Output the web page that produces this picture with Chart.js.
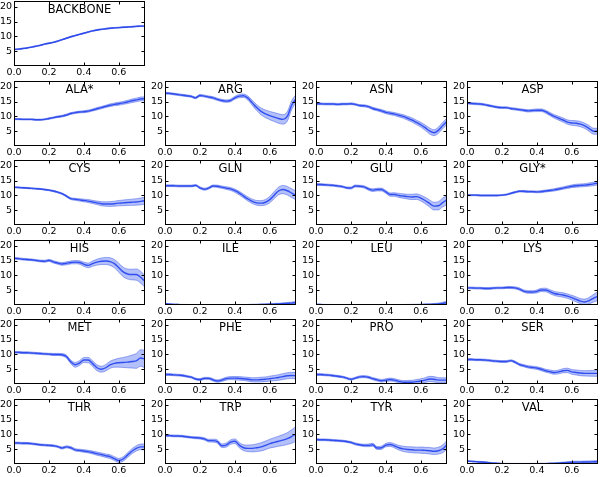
<!DOCTYPE html>
<html>
<head>
<meta charset="utf-8">
<script src="https://cdn.jsdelivr.net/npm/chart.js@4/dist/chart.umd.min.js"></script>
<style>
html,body{margin:0;padding:0;background:#fff;}
#wrap{position:relative;width:600px;height:477px;overflow:hidden;background:#fff;}
canvas{position:absolute;}
</style>
</head>
<body>
<div id="wrap"></div>
<script>
// ---- data ----
const X = [0,0.025,0.05,0.075,0.1,0.125,0.15,0.175,0.2,0.225,0.25,0.275,0.3,0.325,0.35,0.375,0.4,0.425,0.45,0.475,0.5,0.525,0.55,0.575,0.6,0.625,0.65,0.675,0.7,0.725,0.75];
const X_TICKS = [0.0,0.2,0.4,0.6];
const Y_TICKS = [5,10,15,20];
const Y_MAX = 22;
const X_MAX = 0.75;

const BACKBONE = [5.6,5.7,5.9,6.1,6.4,6.7,7.0,7.4,7.7,8.0,8.4,8.9,9.4,9.9,10.3,10.7,11.1,11.5,11.9,12.2,12.4,12.6,12.8,12.9,13.0,13.1,13.2,13.3,13.4,13.5,13.5];
const BACKBONE_SD = [0.15,0.15,0.15,0.15,0.15,0.15,0.15,0.15,0.15,0.15,0.15,0.15,0.15,0.15,0.15,0.15,0.15,0.15,0.15,0.15,0.15,0.15,0.15,0.15,0.15,0.15,0.15,0.15,0.15,0.15,0.15];
const ALA = [9.1,9.1,9.0,9.0,9.0,8.9,8.9,9.0,9.3,9.6,9.9,10.1,10.5,11.0,11.3,11.5,11.6,11.8,12.2,12.6,13.0,13.4,13.8,14.1,14.3,14.6,14.9,15.3,15.6,15.9,16.0];
const ALA_SD = [0.2,0.2,0.2,0.2,0.2,0.2,0.2,0.2,0.25,0.25,0.25,0.3,0.3,0.3,0.3,0.3,0.35,0.35,0.35,0.4,0.4,0.4,0.45,0.45,0.5,0.5,0.55,0.6,0.6,0.65,0.7];
const ARG = [17.9,17.8,17.6,17.4,17.2,17.0,16.8,16.3,17.1,16.9,16.6,16.3,15.8,15.4,15.2,15.4,16.3,16.9,17.0,16.2,14.6,13.0,11.7,10.9,10.3,9.8,9.3,9.0,10.0,13.8,16.0];
const ARG_SD = [0.3,0.3,0.3,0.3,0.3,0.3,0.3,0.3,0.35,0.35,0.35,0.4,0.4,0.4,0.4,0.45,0.5,0.55,0.6,0.7,0.85,1.0,1.15,1.3,1.4,1.5,1.6,1.6,1.6,1.5,1.4];
const ASN = [14.3,14.3,14.2,14.2,14.2,14.1,14.2,14.2,14.3,14.1,13.7,13.6,13.3,12.7,12.3,11.9,11.4,11.1,10.8,10.4,10.0,9.4,8.8,8.0,7.2,6.2,5.1,4.5,5.3,6.9,8.4];
const ASN_SD = [0.3,0.3,0.3,0.3,0.3,0.3,0.3,0.3,0.3,0.3,0.3,0.35,0.35,0.4,0.4,0.45,0.45,0.5,0.5,0.55,0.6,0.65,0.7,0.75,0.8,0.9,1.0,1.0,1.05,1.1,1.1];
const ASP = [14.5,14.4,14.3,14.2,14.0,13.7,13.4,13.1,13.0,13.0,12.7,12.5,12.3,12.1,11.9,12.0,12.1,12.1,11.6,10.8,10.0,9.4,8.8,8.1,7.8,7.7,7.4,6.8,5.9,5.0,5.0];
const ASP_SD = [0.3,0.3,0.3,0.3,0.3,0.3,0.3,0.3,0.3,0.3,0.3,0.35,0.35,0.35,0.4,0.4,0.45,0.45,0.5,0.55,0.6,0.65,0.7,0.75,0.8,0.85,0.9,0.9,1.0,1.0,1.0];
const CYS = [12.8,12.7,12.6,12.5,12.4,12.3,12.2,12.0,11.8,11.5,11.1,10.6,9.8,8.9,8.7,8.5,8.3,8.1,7.8,7.5,7.2,7.1,7.1,7.2,7.4,7.5,7.6,7.7,7.8,8.0,8.2];
const CYS_SD = [0.2,0.2,0.2,0.2,0.2,0.2,0.2,0.2,0.2,0.25,0.25,0.25,0.3,0.3,0.35,0.4,0.45,0.5,0.55,0.6,0.7,0.75,0.8,0.85,0.9,0.95,1.0,1.05,1.1,1.15,1.2];
const GLN = [13.3,13.3,13.3,13.2,13.2,13.2,13.2,13.4,12.6,12.1,12.5,13.2,13.1,12.8,12.5,12.2,11.6,10.8,9.8,8.8,8.0,7.5,7.4,7.7,8.6,10.1,11.5,12.0,11.6,10.8,10.0];
const GLN_SD = [0.3,0.3,0.3,0.3,0.3,0.3,0.3,0.3,0.35,0.35,0.35,0.35,0.4,0.4,0.45,0.5,0.55,0.6,0.65,0.7,0.75,0.8,0.85,0.95,1.05,1.2,1.3,1.4,1.45,1.5,1.5];
const GLU = [13.7,13.7,13.6,13.5,13.4,13.2,13.0,12.6,12.5,13.2,13.1,12.9,12.2,11.8,12.0,12.0,11.2,10.3,10.3,10.0,9.8,9.6,9.5,9.6,9.1,8.3,7.3,6.4,6.5,7.6,8.5];
const GLU_SD = [0.3,0.3,0.3,0.3,0.3,0.3,0.3,0.3,0.35,0.35,0.35,0.4,0.4,0.45,0.45,0.5,0.5,0.55,0.6,0.7,0.75,0.8,0.9,0.95,1.0,1.1,1.2,1.3,1.4,1.5,1.6];
const GLY = [10.1,10.1,10.1,10.0,10.0,10.0,10.0,10.0,10.1,10.3,10.7,11.1,11.4,11.4,11.3,11.3,11.2,11.3,11.5,11.7,11.9,12.2,12.5,12.8,13.1,13.3,13.4,13.5,13.7,13.9,14.2];
const GLY_SD = [0.2,0.2,0.2,0.2,0.2,0.2,0.2,0.2,0.2,0.2,0.25,0.25,0.25,0.3,0.3,0.3,0.3,0.35,0.35,0.35,0.4,0.4,0.4,0.45,0.45,0.5,0.5,0.5,0.55,0.6,0.6];
const HIS = [15.8,15.7,15.5,15.4,15.3,15.1,14.9,14.8,15.1,14.6,14.2,13.9,14.1,14.4,14.5,14.4,13.8,13.4,14.0,14.5,14.8,14.9,14.7,14.0,12.6,11.2,10.5,10.3,10.3,9.4,8.0];
const HIS_SD = [0.3,0.3,0.3,0.3,0.3,0.3,0.3,0.35,0.35,0.4,0.4,0.45,0.5,0.5,0.55,0.6,0.7,0.8,0.9,1.0,1.1,1.2,1.3,1.4,1.5,1.6,1.7,1.8,1.9,2.0,2.0];
const ILE = [0.4,0.3,0.2,0.15,0.1,0.08,0.06,0.05,0.05,0.05,0.05,0.05,0.05,0.05,0.05,0.05,0.05,0.06,0.07,0.08,0.1,0.12,0.15,0.2,0.25,0.3,0.35,0.45,0.55,0.65,0.8];
const ILE_SD = [0.1,0.1,0.1,0.1,0.1,0.1,0.1,0.1,0.1,0.1,0.1,0.1,0.1,0.1,0.1,0.1,0.1,0.1,0.1,0.1,0.15,0.15,0.15,0.2,0.2,0.25,0.25,0.3,0.3,0.35,0.4];
const LEU = [0.2,0.15,0.1,0.08,0.06,0.05,0.05,0.05,0.05,0.05,0.05,0.05,0.05,0.05,0.05,0.05,0.05,0.05,0.05,0.05,0.06,0.07,0.08,0.1,0.12,0.15,0.2,0.25,0.35,0.55,0.9];
const LEU_SD = [0.1,0.1,0.1,0.1,0.1,0.1,0.1,0.1,0.1,0.1,0.1,0.1,0.1,0.1,0.1,0.1,0.1,0.1,0.1,0.1,0.12,0.12,0.15,0.15,0.18,0.2,0.22,0.25,0.3,0.35,0.4];
const LYS = [5.8,5.8,5.7,5.7,5.6,5.6,5.7,5.8,5.8,5.9,5.9,5.8,5.4,4.7,4.4,4.4,4.6,5.1,5.1,4.5,3.9,3.6,3.4,3.0,2.5,1.9,1.3,1.0,1.5,2.3,3.0];
const LYS_SD = [0.3,0.3,0.3,0.3,0.3,0.3,0.3,0.3,0.3,0.3,0.35,0.35,0.4,0.4,0.45,0.45,0.5,0.55,0.6,0.65,0.7,0.7,0.75,0.75,0.8,0.85,0.9,1.0,1.1,1.3,1.5];
const MET = [10.7,10.7,10.6,10.6,10.5,10.4,10.3,10.2,10.1,10.0,10.0,9.9,9.3,7.5,6.5,7.1,8.1,8.1,6.9,5.5,5.0,5.5,6.5,7.0,7.2,7.3,7.4,7.6,7.8,8.8,8.4];
const MET_SD = [0.3,0.3,0.3,0.3,0.3,0.3,0.3,0.3,0.3,0.35,0.35,0.4,0.5,0.6,0.8,0.8,0.85,0.9,0.95,1.0,1.0,1.1,1.2,1.3,1.5,1.7,1.9,2.2,2.5,2.8,3.0];
const PHE = [3.2,3.2,3.1,3.0,2.9,2.6,2.3,1.7,1.5,1.9,1.9,1.4,1.0,1.3,1.8,2.0,2.0,1.9,1.8,1.6,1.4,1.4,1.5,1.6,1.8,2.0,2.2,2.5,2.8,2.9,2.8];
const PHE_SD = [0.3,0.3,0.3,0.3,0.3,0.3,0.3,0.3,0.3,0.35,0.35,0.4,0.4,0.45,0.5,0.5,0.55,0.6,0.6,0.65,0.7,0.75,0.8,0.8,0.85,0.9,0.95,1.0,1.0,1.05,1.1];
const PRO = [3.2,3.2,3.1,3.0,2.8,2.6,2.4,2.0,1.6,2.0,2.4,2.5,2.3,1.8,1.4,1.1,1.3,1.5,1.3,0.9,0.6,0.6,0.6,0.8,1.0,1.3,1.7,1.6,1.3,1.3,1.3];
const PRO_SD = [0.3,0.3,0.3,0.3,0.3,0.3,0.3,0.3,0.3,0.3,0.35,0.35,0.35,0.4,0.4,0.45,0.45,0.5,0.5,0.5,0.55,0.6,0.65,0.7,0.75,0.8,0.9,0.9,0.85,0.8,0.8];
const SER = [8.3,8.3,8.2,8.2,8.1,8.0,7.8,7.7,7.6,7.6,7.9,7.4,6.6,6.2,5.8,5.6,5.4,5.0,4.5,4.2,3.9,4.1,4.5,4.6,4.1,3.9,3.7,3.6,3.6,3.6,3.6];
const SER_SD = [0.3,0.3,0.3,0.3,0.3,0.3,0.3,0.3,0.3,0.3,0.3,0.35,0.35,0.4,0.4,0.45,0.45,0.5,0.5,0.55,0.6,0.65,0.7,0.75,0.8,0.85,0.9,0.9,0.95,1.0,1.0];
const THR = [7.1,7.1,7.0,7.0,6.9,6.7,6.5,6.4,6.3,6.2,5.9,5.4,5.8,5.5,4.8,4.6,4.4,4.2,3.9,3.5,3.2,2.8,2.5,1.8,1.2,1.7,3.0,4.3,5.3,5.8,5.8];
const THR_SD = [0.3,0.3,0.3,0.3,0.3,0.3,0.3,0.3,0.3,0.3,0.3,0.35,0.35,0.4,0.4,0.4,0.45,0.45,0.5,0.55,0.55,0.6,0.65,0.65,0.7,0.75,0.8,0.85,0.9,0.95,1.0];
const TRP = [9.6,9.6,9.5,9.5,9.4,9.2,9.0,8.9,8.8,8.5,7.9,7.9,7.6,6.2,6.4,7.4,7.7,6.4,5.5,5.3,5.3,5.5,5.8,6.3,6.9,7.3,7.7,8.1,8.6,9.3,10.2];
const TRP_SD = [0.3,0.3,0.3,0.3,0.3,0.3,0.3,0.35,0.35,0.4,0.45,0.5,0.55,0.6,0.7,0.75,0.8,0.9,1.0,1.1,1.2,1.3,1.4,1.45,1.5,1.6,1.7,1.85,2.0,2.3,2.5];
const TYR = [8.3,8.2,8.2,8.1,8.0,7.9,7.8,7.6,7.3,6.8,6.5,6.3,6.3,6.5,5.4,5.5,6.4,6.6,6.1,5.5,5.1,4.9,4.8,4.7,4.7,4.6,4.5,4.3,4.5,5.1,6.5];
const TYR_SD = [0.3,0.3,0.3,0.3,0.3,0.3,0.3,0.3,0.3,0.35,0.35,0.4,0.45,0.5,0.5,0.55,0.6,0.65,0.7,0.8,0.9,0.95,1.0,1.0,1.05,1.05,1.1,1.1,1.15,1.3,1.5];
const VAL = [1.0,0.9,0.8,0.7,0.6,0.45,0.3,0.2,0.1,0.08,0.06,0.05,0.05,0.05,0.05,0.06,0.08,0.1,0.12,0.15,0.2,0.3,0.4,0.5,0.6,0.65,0.65,0.7,0.7,0.75,0.8];
const VAL_SD = [0.15,0.15,0.15,0.15,0.15,0.15,0.15,0.15,0.15,0.15,0.15,0.15,0.15,0.15,0.15,0.15,0.15,0.15,0.15,0.2,0.2,0.2,0.25,0.25,0.3,0.3,0.3,0.3,0.35,0.35,0.4];

const TITLES = ['BACKBONE','ALA*','ARG','ASN','ASP','CYS','GLN','GLU','GLY*','HIS','ILE','LEU','LYS','MET','PHE','PRO','SER','THR','TRP','TYR','VAL'];
const MEANS = [BACKBONE,ALA,ARG,ASN,ASP,CYS,GLN,GLU,GLY,HIS,ILE,LEU,LYS,MET,PHE,PRO,SER,THR,TRP,TYR,VAL];
const SDS = [BACKBONE_SD,ALA_SD,ARG_SD,ASN_SD,ASP_SD,CYS_SD,GLN_SD,GLU_SD,GLY_SD,HIS_SD,ILE_SD,LEU_SD,LYS_SD,MET_SD,PHE_SD,PRO_SD,SER_SD,THR_SD,TRP_SD,TYR_SD,VAL_SD];

// ---- layout / style ----
const COL_LEFT = [14,165,316,467];
const ROW_TOP = [1,81,160,240,319,399];
const PW = 131, PH = 65;
const YAXIS_W = 16, XAXIS_H = 14, PAD_R = 6;
const LINE = '#1f3cf2';
const EDGE = 'rgba(50,75,225,0.75)';
const FILL = 'rgba(75,105,240,0.42)';

Chart.defaults.font.family = "'DejaVu Sans', sans-serif";
Chart.defaults.color = '#000';

const framePlugin = {
  id: 'frame',
  afterDraw(chart, args, opts) {
    const {ctx, chartArea: a} = chart;
    const xs = chart.scales.x, ys = chart.scales.y;
    ctx.save();
    const L = Math.round(a.left) + 0.5, R = Math.round(a.right) - 0.5;
    const T = Math.round(a.top) + 0.5, B = Math.round(a.bottom) - 0.5;
    ctx.strokeStyle = '#000';
    ctx.lineWidth = 1;
    ctx.beginPath();
    X_TICKS.forEach(v => {
      const p = Math.round(xs.getPixelForValue(v)) + 0.5;
      ctx.moveTo(p, B); ctx.lineTo(p, B - 3);
      ctx.moveTo(p, T); ctx.lineTo(p, T + 3);
    });
    Y_TICKS.forEach(v => {
      const p = Math.round(ys.getPixelForValue(v)) + 0.5;
      ctx.moveTo(L, p); ctx.lineTo(L + 3, p);
      ctx.moveTo(R, p); ctx.lineTo(R - 3, p);
    });
    ctx.stroke();
    ctx.strokeRect(L, T, R - L, B - T);
    ctx.fillStyle = '#000';
    ctx.font = "11.5px 'DejaVu Sans', sans-serif";
    ctx.textAlign = 'center';
    ctx.textBaseline = 'alphabetic';
    ctx.fillText(opts.title, (a.left + a.right) / 2, a.top + 12);
    ctx.restore();
  }
};

const wrap = document.getElementById('wrap');

function panel(idx, row, col) {
  const cv = document.createElement('canvas');
  const w = YAXIS_W + PW + PAD_R, h = 1 + PH + XAXIS_H;
  cv.width = w; cv.height = h;
  cv.style.width = w + 'px'; cv.style.height = h + 'px';
  cv.style.left = (COL_LEFT[col] - YAXIS_W) + 'px';
  cv.style.top = (ROW_TOP[row] - 1) + 'px';
  wrap.appendChild(cv);
  const mean = MEANS[idx], sd = SDS[idx];
  const pts = arr => X.map((x, i) => ({x: x, y: arr[i]}));
  const lower = mean.map((m, i) => m - sd[i]);
  const upper = mean.map((m, i) => m + sd[i]);
  const common = {pointRadius: 0, cubicInterpolationMode: 'monotone'};
  new Chart(cv, {
    type: 'line',
    data: {datasets: [
      Object.assign({data: pts(lower), borderColor: EDGE, borderWidth: 0.6, fill: false}, common),
      Object.assign({data: pts(upper), borderColor: EDGE, borderWidth: 0.6, fill: '-1', backgroundColor: FILL}, common),
      Object.assign({data: pts(mean), borderColor: LINE, borderWidth: 1.4, fill: false}, common)
    ]},
    options: {
      responsive: false, animation: false, events: [],
      layout: {padding: {top: 1, right: PAD_R, left: 0, bottom: 0}},
      plugins: {legend: {display: false}, tooltip: {enabled: false}, frame: {title: TITLES[idx]}},
      scales: {
        x: {
          type: 'linear', min: 0, max: X_MAX,
          grid: {display: false, drawTicks: false}, border: {display: false},
          afterBuildTicks: s => { s.ticks = X_TICKS.map(v => ({value: v})); },
          afterFit: s => { s.height = XAXIS_H; s.paddingLeft = 0; s.paddingRight = 0; },
          ticks: {padding: 1, maxRotation: 0, autoSkip: false, font: {size: 9.5}, color: '#000',
                  callback: v => Number(v).toFixed(1)}
        },
        y: {
          type: 'linear', min: 0, max: Y_MAX,
          grid: {display: false, drawTicks: false}, border: {display: false},
          afterBuildTicks: s => { s.ticks = Y_TICKS.map(v => ({value: v})); },
          afterFit: s => { s.width = YAXIS_W; s.paddingTop = 0; s.paddingBottom = 0; },
          ticks: {padding: 2, autoSkip: false, font: {size: 9.5}, color: '#000',
                  callback: v => String(v)}
        }
      }
    },
    plugins: [framePlugin]
  });
}

panel(0, 0, 0);
for (let i = 1; i < TITLES.length; i++) {
  const r = Math.floor((i - 1) / 4) + 1, c = (i - 1) % 4;
  panel(i, r, c);
}
</script>
</body>
</html>
